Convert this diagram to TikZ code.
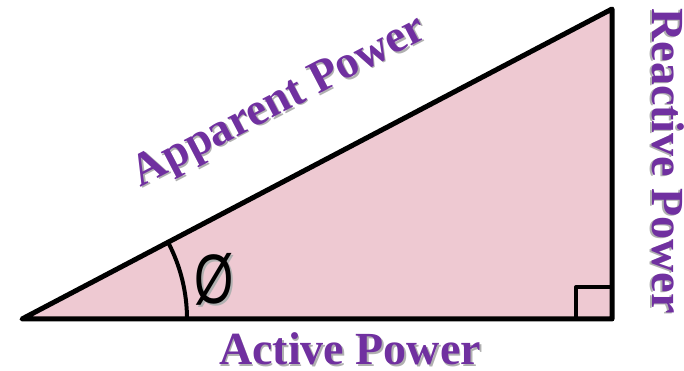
\documentclass[tikz,border=0pt]{standalone}
\usepackage{fontspec}
\setmainfont{Liberation Serif}
\newfontfamily\lsans{Liberation Sans}
\definecolor{tripink}{HTML}{EEC9D2}
\definecolor{lblpurple}{HTML}{7030A0}
\definecolor{shadowgray}{HTML}{B0B0B0}
\begin{document}
\begin{tikzpicture}[x=1pt,y=1pt,
  side/.style={line width=5pt,line join=round,line cap=round},
  lbl/.style={inner sep=0pt,font=\fontsize{46}{50}\selectfont\bfseries,text=lblpurple},
  lblshadow/.style={inner sep=0pt,font=\fontsize{46}{50}\selectfont\bfseries,text=shadowgray},
  phisym/.style={inner sep=0pt,font=\lsans\fontsize{70}{74}\selectfont,xscale=0.72}]
\useasboundingbox (0,0) rectangle (684,371);
\coordinate (A) at (22,52);
\coordinate (B) at (612,52);
\coordinate (C) at (612,362);
\filldraw[side,fill=tripink] (A) -- (B) -- (C) -- cycle;
% right angle mark
\coordinate (R1) at (576,52);
\coordinate (R2) at (576,84);
\coordinate (R3) at (612,84);
\draw[line width=4pt,line join=round] (R1) -- (R2) -- (R3);
% angle arc
\draw[line width=4pt] (A) ++(165,0) arc[start angle=0,end angle=27.7,radius=165];
% phi
\node[phisym,text=shadowgray] (phishadow) at (216,90) {Ø};
\node[phisym] (phi) at (214,92) {Ø};
% labels
\node[lblshadow,anchor=base] at (351.5,4.5) {Active Power};
\node[lbl,anchor=base] (active) at (350,6) {Active Power};
\node[lblshadow,anchor=base,rotate=-90] at (650.5,209) {Reactive Power};
\node[lbl,anchor=base,rotate=-90] (reactive) at (652,210) {Reactive Power};
\node[lblshadow,anchor=base,rotate=27.5] at (286.5,257.5) {Apparent Power};
\node[lbl,anchor=base,rotate=27.5] (apparent) at (285,259) {Apparent Power};
\end{tikzpicture}
\end{document}
